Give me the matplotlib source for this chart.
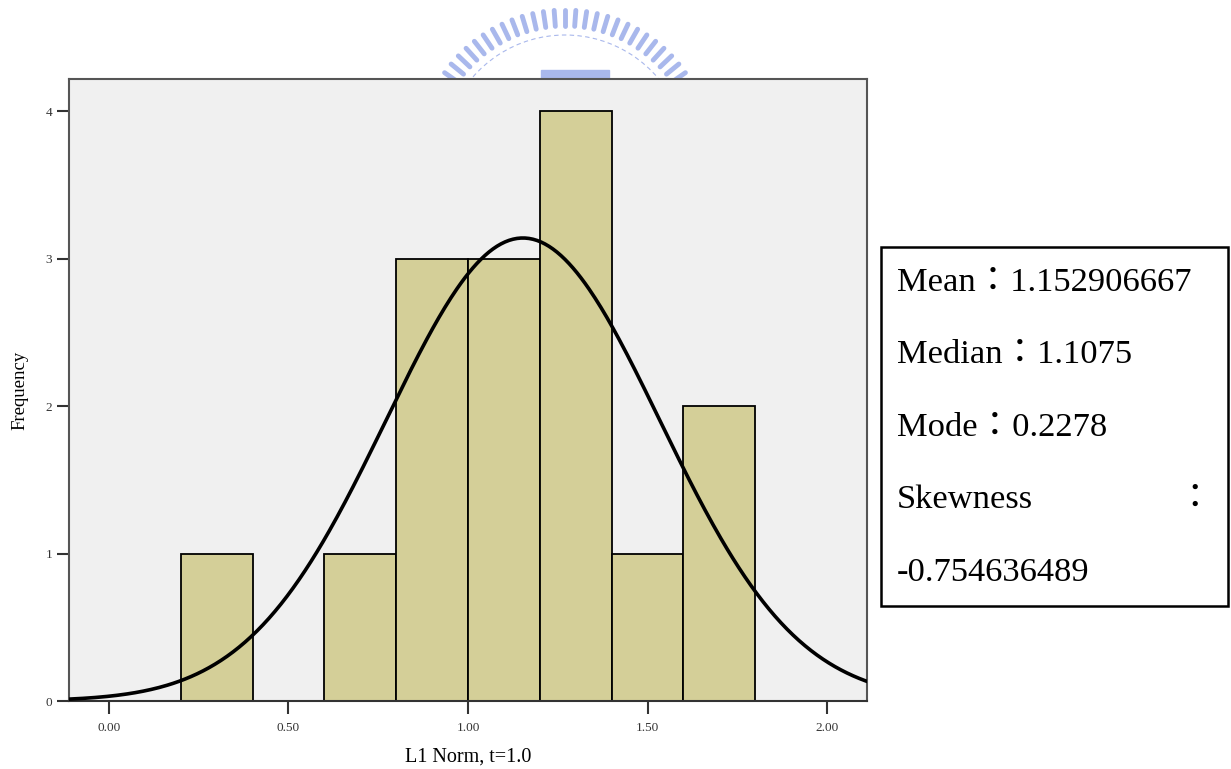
import numpy as np
import matplotlib
matplotlib.use("Agg")
import matplotlib.pyplot as plt
from matplotlib.patches import Rectangle, Arc
from matplotlib.lines import Line2D

# histogram data (SPSS style)
bin_edges = [0.2, 0.4, 0.6, 0.8, 1.0, 1.2, 1.4, 1.6, 1.8]
counts = [1, 0, 1, 3, 3, 4, 1, 2]
mean_val = 1.152906667
std_val = 0.381
n_obs = 15
x_ticks = [0.0, 0.5, 1.0, 1.5, 2.0]
x_tick_labels = ["0.00", "0.50", "1.00", "1.50", "2.00"]
y_ticks = [0, 1, 2, 3, 4]
stats_lines = ["Mean\uff1a1.152906667", "Median\uff1a1.1075", "Mode\uff1a0.2278"]
skew_label = "Skewness"
skew_value = "-0.754636489"

serif = ["Liberation Serif", "Noto Sans CJK TC"]
W, H = 1231, 769

fig = plt.figure(figsize=(12.31, 7.69), dpi=100)
fig.patch.set_facecolor("white")

# faint watermark logo behind the plot (gear-like arc)
wm = "#a9b8ec"
cx, cy = 565, 157
for ang in np.linspace(np.radians(35), np.radians(145), 27):
    r0, r1 = 131, 147
    x0, y0 = cx + r0 * np.cos(ang), cy - r0 * np.sin(ang)
    x1, y1 = cx + r1 * np.cos(ang), cy - r1 * np.sin(ang)
    fig.add_artist(Line2D([x0 / W, x1 / W], [1 - y0 / H, 1 - y1 / H], color=wm,
                          linewidth=3.5, solid_capstyle="round", zorder=-2))
fig.add_artist(Arc((cx / W, 1 - cy / H), 2 * 122 / W, 2 * 122 / H, theta1=35, theta2=145,
                   color=wm, linewidth=0.8, linestyle=(0, (4, 3)), zorder=-2))
fig.add_artist(Rectangle((541 / W, 1 - 80 / H), 68 / W, 10 / H, color=wm, zorder=-2))

ax = fig.add_axes([69 / W, 1 - 701 / H, (867 - 69) / W, (701 - 79) / H])
ax.set_facecolor("#f0f0f0")

widths = np.diff(bin_edges)
ax.bar(bin_edges[:-1], counts, width=widths, align="edge", color="#d4cf98",
       edgecolor="black", linewidth=1.3, zorder=2)

xs = np.linspace(-0.111, 2.111, 400)
bw = bin_edges[1] - bin_edges[0]
ys = n_obs * bw / (std_val * np.sqrt(2 * np.pi)) * np.exp(-0.5 * ((xs - mean_val) / std_val) ** 2)
ax.plot(xs, ys, color="black", linewidth=2.6, zorder=3)

ax.set_xlim(-0.111, 2.111)
ax.set_ylim(0, 4.22)
ax.set_xticks(x_ticks)
ax.set_xticklabels(x_tick_labels, family=serif, fontsize=9.5, color="#333333")
ax.set_yticks(y_ticks)
ax.set_yticklabels([str(v) for v in y_ticks], family=serif, fontsize=9.5, color="#333333")
ax.tick_params(axis="both", direction="out", length=9, width=1.5, color="#333333")
ax.tick_params(axis="y", pad=3)
ax.tick_params(axis="x", pad=6)
for sp in ax.spines.values():
    sp.set_color("#555555")
    sp.set_linewidth(1.5)
ax.spines["bottom"].set_color("#333333")

ax.set_xlabel("L1 Norm, t=1.0", family=serif, fontsize=14.5, labelpad=10)
ax.set_ylabel("Frequency", family=serif, fontsize=13.5, labelpad=12)

# stats box on the right
box = Rectangle((881 / W, 1 - 606 / H), (1228 - 881) / W, (606 - 247) / H,
                transform=fig.transFigure, facecolor="white", edgecolor="black", linewidth=1.8)
fig.patches.append(box)
line_y = [283, 355, 428]
for txt, yy in zip(stats_lines, line_y):
    fig.text(897 / W, 1 - yy / H, txt, family=serif, fontsize=24.8, va="center", ha="left")
fig.text(897 / W, 1 - 500 / H, skew_label, family=serif, fontsize=24.8, va="center", ha="left")
fig.text(1195 / W, 1 - 500 / H, "\uff1a", family=serif, fontsize=24.8, va="center", ha="center")
fig.text(897 / W, 1 - 573 / H, skew_value, family=serif, fontsize=24.8, va="center", ha="left")

fig.savefig("out.png", dpi=100)
